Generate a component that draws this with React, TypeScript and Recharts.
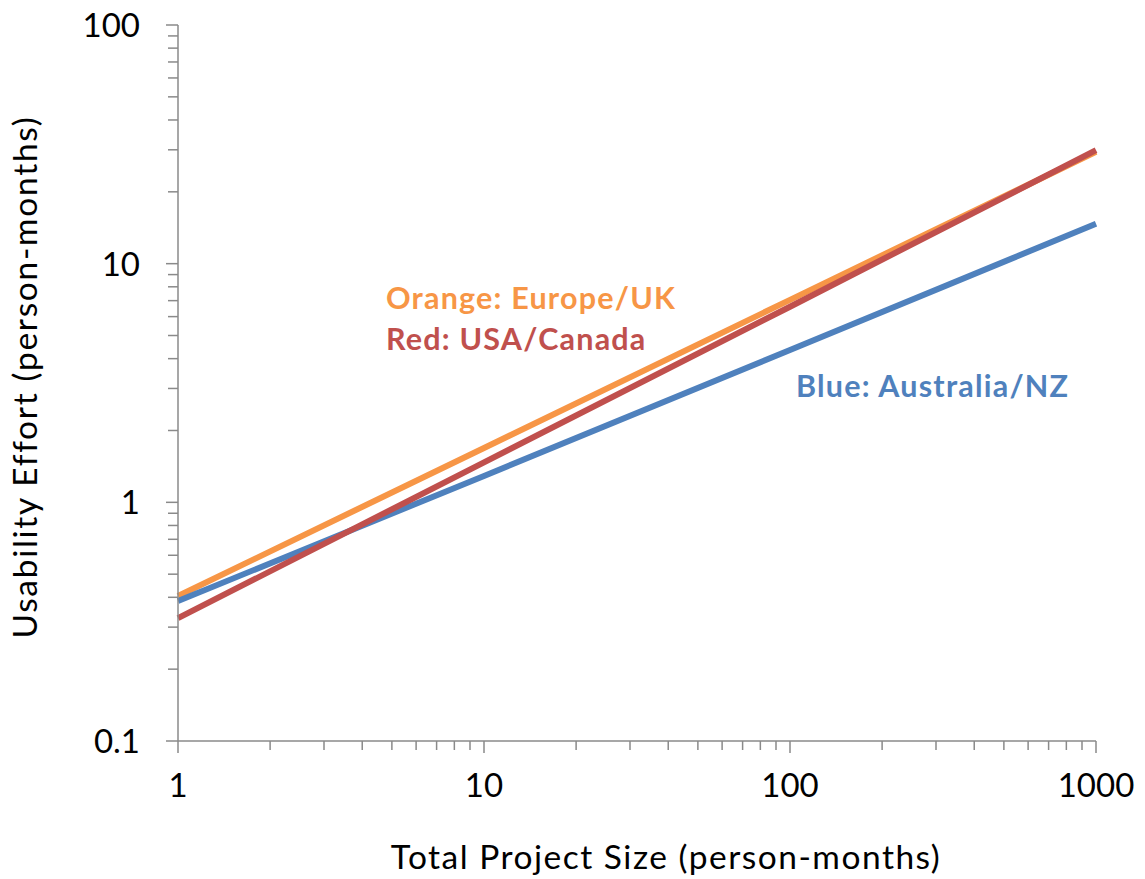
import React from 'react'
import { LineChart, Line, XAxis, YAxis } from 'recharts'

// Project size (person-months) and usability effort per region
const sizes = [1, 10, 100, 1000]
const europeUK = [0.405, 1.69, 7.05, 29.4]
const usaCanada = [0.327, 1.47, 6.6, 29.9]
const australiaNZ = [0.386, 1.29, 4.35, 14.7]

const xTicks = [1, 2, 3, 4, 5, 6, 7, 8, 9, 10, 20, 30, 40, 50, 60, 70, 80, 90, 100, 200, 300, 400, 500, 600, 700, 800, 900, 1000]
const xMajor = [1, 10, 100, 1000]
const yTicks = [0.1, 0.2, 0.3, 0.4, 0.5, 0.6, 0.7, 0.8, 0.9, 1, 2, 3, 4, 5, 6, 7, 8, 9, 10, 20, 30, 40, 50, 60, 70, 80, 90, 100]
const yMajor = [0.1, 1, 10, 100]

const FONT = 'Lato, "Open Sans", sans-serif'
const AXIS = '#8a8a8a'

const data = sizes.map((s, i) => ({
  size: s,
  orange: europeUK[i],
  red: usaCanada[i],
  blue: australiaNZ[i],
}))

const XTick = (props: any) => {
  const { x, y, payload } = props
  const major = xMajor.includes(payload.value)
  return (
    <g>
      <line x1={x} x2={x} y1={y} y2={y + (major ? 12 : 9)} stroke={AXIS} strokeWidth={1.5} />
      {major && (
        <text x={x} y={y + 56} textAnchor="middle" fontSize={33} fill="#000" fontFamily={FONT}>
          {payload.value}
        </text>
      )}
    </g>
  )
}

const YTick = (props: any) => {
  const { x, y, payload } = props
  const major = yMajor.includes(payload.value)
  return (
    <g>
      <line x1={x} x2={x - (major ? 12 : 10)} y1={y} y2={y} stroke={AXIS} strokeWidth={1.5} />
      {major && (
        <text x={x - 38} y={y + 12} textAnchor="end" fontSize={33} fill="#000" fontFamily={FONT}>
          {payload.value}
        </text>
      )}
    </g>
  )
}

const noteStyle = { fontFamily: FONT, fontWeight: 700, fontSize: 30.5, letterSpacing: 1.2 }
const titleStyle = { fontFamily: FONT, fontSize: 33.5, letterSpacing: 1.5, fill: '#000' }

export default function App() {
  return (
    <div style={{ position: 'absolute', left: 0, top: 0, width: 1145, height: 879, background: '#fff' }}>
      <LineChart width={1145} height={879} data={data} margin={{ top: 25, right: 49, bottom: 0, left: 0 }}>
        <XAxis
          dataKey="size"
          type="number"
          scale="log"
          domain={[1, 1000]}
          ticks={xTicks}
          interval={0}
          tick={<XTick />}
          tickLine={false}
          tickSize={0}
          tickMargin={0}
          height={138}
          axisLine={{ stroke: AXIS, strokeWidth: 1.5 }}
        />
        <YAxis
          type="number"
          scale="log"
          domain={[0.1, 100]}
          ticks={yTicks}
          interval={0}
          tick={<YTick />}
          tickLine={false}
          tickSize={0}
          tickMargin={0}
          width={178}
          axisLine={{ stroke: AXIS, strokeWidth: 1.5 }}
        />
        <Line dataKey="orange" stroke="#F79646" strokeWidth={6} dot={false} isAnimationActive={false} />
        <Line dataKey="blue" stroke="#4F81BD" strokeWidth={6} dot={false} isAnimationActive={false} />
        <Line dataKey="red" stroke="#C0504D" strokeWidth={6} dot={false} isAnimationActive={false} />
      </LineChart>
      {/* axis titles and series notes */}
      <svg width={1145} height={879} style={{ position: 'absolute', left: 0, top: 0, pointerEvents: 'none' }}>
        <text x={666} y={869} textAnchor="middle" style={titleStyle}>
          Total Project Size (person-months)
        </text>
        <text transform="translate(37,377) rotate(-90)" textAnchor="middle" style={{ ...titleStyle, letterSpacing: 1.7 }}>
          Usability Effort (person-months)
        </text>
        <text x={386} y={309} fill="#F79646" style={noteStyle}>Orange: Europe/UK</text>
        <text x={386} y={350} fill="#C0504D" style={noteStyle}>Red: USA/Canada</text>
        <text x={796} y={397} fill="#4F81BD" style={noteStyle}>Blue: Australia/NZ</text>
      </svg>
    </div>
  )
}
